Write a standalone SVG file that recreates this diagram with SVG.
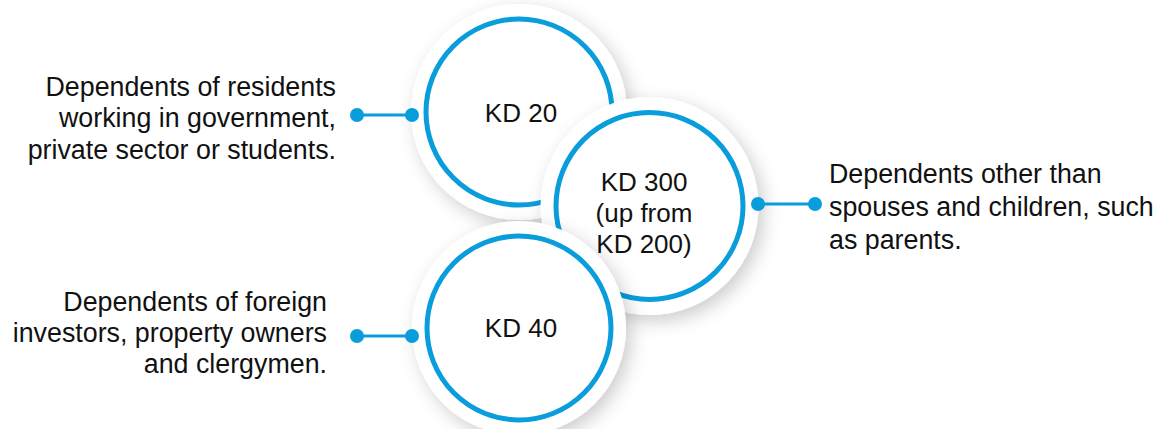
<svg xmlns="http://www.w3.org/2000/svg" width="1158" height="429" viewBox="0 0 1158 429">
<style>
.lbl{font-family:"Liberation Sans",Arial,Helvetica,sans-serif;font-size:26.8px;fill:#111}
.val{font-family:"Liberation Sans",Arial,Helvetica,sans-serif;font-size:26px;fill:#111;text-anchor:middle}
.halo{fill:#fff;filter:url(#sh)}
.ring{fill:#fff;stroke:#0a9ddc;stroke-width:5}
.con line{stroke:#0a9ddc;stroke-width:3}
.con circle{fill:#0a9ddc}
</style>
<defs>
<filter id="sh" x="-30%" y="-30%" width="160%" height="160%">
<feDropShadow dx="5" dy="6" stdDeviation="9" flood-color="#000" flood-opacity="0.2"/>
</filter>
</defs>
<rect width="1158" height="429" fill="#fff"/>
<g id="node-kd20">
<circle class="halo" cx="519" cy="112" r="108"/>
<circle class="ring" cx="519" cy="112" r="93"/>
<text class="val" x="521" y="122">KD 20</text>
</g>
<g id="node-kd300">
<circle class="halo" cx="649.5" cy="206" r="109"/>
<circle class="ring" cx="649.5" cy="206" r="93.5"/>
<text class="val" x="644" y="191">KD 300</text>
<text class="val" x="644" y="222">(up from</text>
<text class="val" x="644" y="253">KD 200)</text>
</g>
<g id="node-kd40">
<circle class="halo" cx="519" cy="328" r="107"/>
<circle class="ring" cx="519" cy="328" r="92"/>
<text class="val" x="521" y="337">KD 40</text>
</g>
<g id="label-residents">
<text class="lbl" text-anchor="end" x="336" y="96">Dependents of residents</text>
<text class="lbl" text-anchor="end" x="336" y="127">working in government,</text>
<text class="lbl" text-anchor="end" x="336" y="159">private sector or students.</text>
</g>
<g id="label-others">
<text class="lbl" x="829" y="183">Dependents other than</text>
<text class="lbl" x="829" y="216">spouses and children, such</text>
<text class="lbl" x="829" y="249">as parents.</text>
</g>
<g id="label-investors">
<text class="lbl" text-anchor="end" x="327" y="311">Dependents of foreign</text>
<text class="lbl" text-anchor="end" x="327" y="342">investors, property owners</text>
<text class="lbl" text-anchor="end" x="327" y="373">and clergymen.</text>
</g>
<g id="connectors" class="con">
<line x1="357" y1="115" x2="412" y2="115"/>
<circle cx="357" cy="115" r="7"/>
<circle cx="412" cy="115" r="7"/>
<line x1="758" y1="204" x2="815" y2="204"/>
<circle cx="758" cy="204" r="7"/>
<circle cx="815" cy="204" r="7"/>
<line x1="357" y1="336" x2="412" y2="336"/>
<circle cx="357" cy="336" r="7"/>
<circle cx="412" cy="336" r="7"/>
</g>
</svg>
